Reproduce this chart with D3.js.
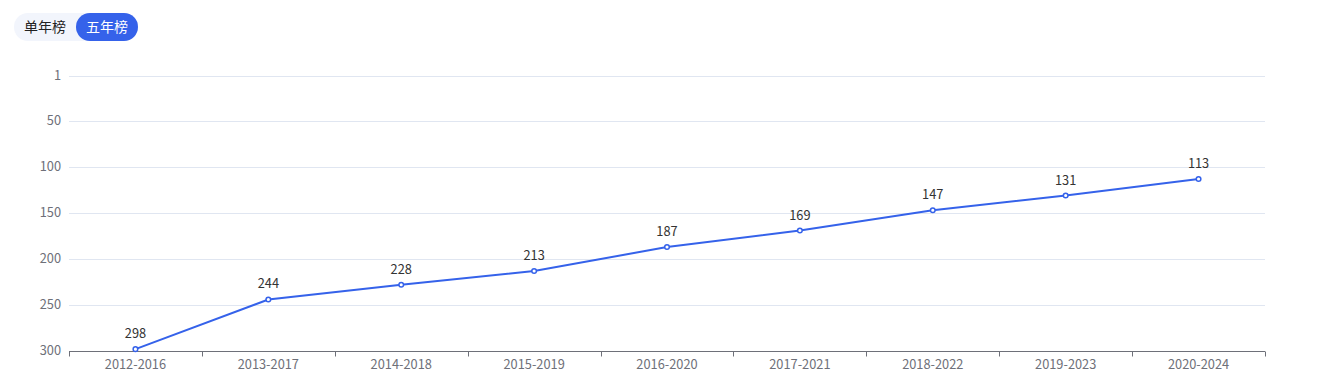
<!DOCTYPE html>
<html><head><meta charset="utf-8">
<script src="https://cdn.jsdelivr.net/npm/d3@7"></script>
<style>
body{margin:0;background:#fff;font-family:"Microsoft YaHei","Noto Sans CJK SC",sans-serif;}
svg{display:block;}
</style></head><body>
<svg id="c" width="1317" height="383"></svg>
<script>
const categories = ["2012-2016","2013-2017","2014-2018","2015-2019","2016-2020","2017-2021","2018-2022","2019-2023","2020-2024"];
const ranks = [298,244,228,213,187,169,147,131,113];
const yTicks = [1,50,100,150,200,250,300];
const tabs = ["单年榜","五年榜"];

(function(){
const svg = d3.select("#c");
const L=69, R=1265, T=76, B=351;
const x = d3.scaleBand().domain(categories).range([L,R]);
const y = d3.scaleLinear().domain([1,300]).range([T,B]);
const font = '"Microsoft YaHei","Noto Sans CJK SC",sans-serif';
const fs = 12.8;

// tabs
svg.append("rect").attr("x",14).attr("y",13).attr("width",124).attr("height",28).attr("rx",14).attr("fill","#f2f5fc");
svg.append("rect").attr("x",76).attr("y",13).attr("width",62).attr("height",28).attr("rx",14).attr("fill","#3562ea");
svg.append("text").attr("x",45).attr("y",32).attr("text-anchor","middle").attr("font-size",14).attr("font-family",font).attr("fill","#222").text(tabs[0]);
svg.append("text").attr("x",107).attr("y",32).attr("text-anchor","middle").attr("font-size",14).attr("font-family",font).attr("fill","#fff").text(tabs[1]);

// grid
svg.append("g").selectAll("line").data(yTicks.filter(d=>d!==300)).join("line")
  .attr("x1",L).attr("x2",R).attr("y1",d=>Math.round(y(d))+0.5).attr("y2",d=>Math.round(y(d))+0.5)
  .attr("stroke","#e0e6f1");

// y labels
svg.append("g").selectAll("text").data(yTicks).join("text")
  .attr("x",61).attr("y",d=>y(d)+4).attr("text-anchor","end").attr("font-size",fs).attr("font-family",font)
  .attr("fill","#6e7079").text(d=>d);

// x axis
const xa = svg.append("g").attr("transform",`translate(0,${Math.round(B)+0.5})`);
xa.append("line").attr("x1",L).attr("x2",R).attr("stroke","#6e7079");
const bounds = categories.map(c=>x(c)).concat([R]);
xa.selectAll("line.t").data(bounds).join("line").attr("class","t")
  .attr("x1",d=>Math.round(d)+0.5).attr("x2",d=>Math.round(d)+0.5).attr("y1",0).attr("y2",5).attr("stroke","#6e7079");
xa.selectAll("text").data(categories).join("text")
  .attr("x",d=>x(d)+x.bandwidth()/2).attr("y",17).attr("text-anchor","middle").attr("font-size",fs).attr("font-family",font)
  .attr("fill","#6e7079").text(d=>d);

// line
const pts = categories.map((c,i)=>[x(c)+x.bandwidth()/2, y(ranks[i])]);
svg.append("path").attr("d",d3.line()(pts)).attr("fill","none").attr("stroke","#3562ea").attr("stroke-width",2);
svg.append("g").selectAll("circle").data(pts).join("circle")
  .attr("cx",d=>d[0]).attr("cy",d=>d[1]).attr("r",2.3).attr("fill","#fff").attr("stroke","#3562ea").attr("stroke-width",1.5);
svg.append("g").selectAll("text").data(pts).join("text")
  .attr("x",d=>d[0]).attr("y",d=>d[1]-11).attr("text-anchor","middle").attr("font-size",fs).attr("font-family",font)
  .attr("fill","#333").text((d,i)=>ranks[i]);
})();
</script>
</body></html>
